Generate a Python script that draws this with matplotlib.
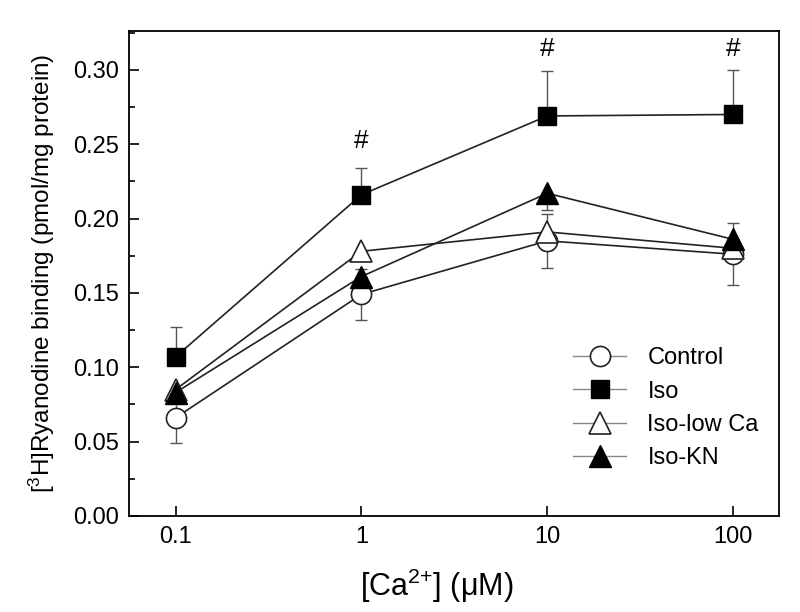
import numpy as np
import matplotlib
matplotlib.use("Agg")
import matplotlib.pyplot as plt

plt.rcParams['font.family'] = ['Liberation Sans', 'DejaVu Sans']
plt.rcParams['mathtext.fontset'] = 'custom'
plt.rcParams['mathtext.rm'] = 'Liberation Sans'
plt.rcParams['mathtext.it'] = 'Liberation Sans'

# =========================================
# Data
# =========================================
ca_conc = [0.1, 1, 10, 100]

control = [0.066, 0.149, 0.185, 0.176]
control_err = [0.017, 0.017, 0.018, 0.021]

iso = [0.107, 0.216, 0.269, 0.270]
iso_err = [0.020, 0.018, 0.030, 0.030]

iso_low_ca = [0.085, 0.178, 0.191, 0.180]
iso_low_ca_err = [0.004, 0.004, 0.012, 0.006]

iso_kn = [0.083, 0.161, 0.217, 0.186]
iso_kn_err = [0.004, 0.004, 0.011, 0.004]

sig_x = [1, 10, 100]
sig_y = [0.252, 0.314, 0.314]

# =========================================
# Plot
# =========================================
fig = plt.figure(figsize=(8, 6.12), dpi=100)
ax = fig.add_axes([0.161, 0.157, 0.813, 0.792])

line_c = '#222222'
err_c = '#555555'
zeros = [0, 0, 0, 0]

# error bars first (one-sided where the other half is hidden in the original)
ax.errorbar(ca_conc, control, yerr=[control_err, control_err], fmt='none',
            ecolor=err_c, elinewidth=1, capsize=4, zorder=1)
ax.errorbar(ca_conc, iso, yerr=[zeros, iso_err], fmt='none',
            ecolor=err_c, elinewidth=1, capsize=4, zorder=1)
ax.errorbar(ca_conc, iso_low_ca, yerr=[iso_low_ca_err, zeros], fmt='none',
            ecolor=err_c, elinewidth=1, capsize=4, zorder=1)
ax.errorbar(ca_conc, iso_kn, yerr=[iso_kn_err, zeros], fmt='none',
            ecolor=err_c, elinewidth=1, capsize=4, zorder=1)

ax.plot(ca_conc, control, color=line_c, lw=1.2, marker='o', ms=14.5,
        mfc='white', mec=line_c, mew=1.2, label='Control', zorder=3)
ax.plot(ca_conc, iso, color=line_c, lw=1.2, marker='s', ms=13,
        mfc='black', mec='black', label='Iso', zorder=3)
ax.plot(ca_conc, iso_low_ca, color=line_c, lw=1.2, marker='^', ms=16,
        mfc='white', mec=line_c, mew=1.2, label='Iso-low Ca', zorder=3)
ax.plot(ca_conc, iso_kn, color=line_c, lw=1.2, marker='^', ms=16,
        mfc='black', mec='black', label='Iso-KN', zorder=3)

for xs, ys in zip(sig_x, sig_y):
    ax.text(xs, ys, '#', ha='center', va='center', fontsize=19)

ax.set_xscale('log')
ax.set_xlim(0.056, 177)
ax.set_ylim(0, 0.326)
ax.set_xticks(ca_conc)
ax.set_xticklabels(['0.1', '1', '10', '100'])
ax.xaxis.set_minor_locator(matplotlib.ticker.NullLocator())
yt = np.arange(0, 0.31, 0.05)
ax.set_yticks(yt)
ax.set_yticklabels([f'{v:.2f}' for v in yt])
ax.yaxis.set_minor_locator(matplotlib.ticker.MultipleLocator(0.025))

ax.tick_params(axis='both', which='major', direction='in', length=7, width=1.2,
               labelsize=17, pad=7)
ax.tick_params(axis='both', which='minor', direction='in', length=4, width=1.2)
for s in ax.spines.values():
    s.set_linewidth(1.3)

ax.set_ylabel('[$^{3}$H]Ryanodine binding (pmol/mg protein)', fontsize=17.5,
              labelpad=12)
ax.set_xlabel('[Ca$^{2{+}}$] (μM)', fontsize=22)
ax.xaxis.set_label_coords(0.474, -0.104)

leg = ax.legend(loc='center left', bbox_to_anchor=(0.683, 0.222), frameon=False,
                fontsize=17, handlelength=2.25, handletextpad=0.9,
                labelspacing=0.48, borderpad=0, borderaxespad=0)
for h in leg.get_lines():
    h.set_color('#888888')
    h.set_linewidth(1.0)

fig.savefig('out.png', dpi=100)
